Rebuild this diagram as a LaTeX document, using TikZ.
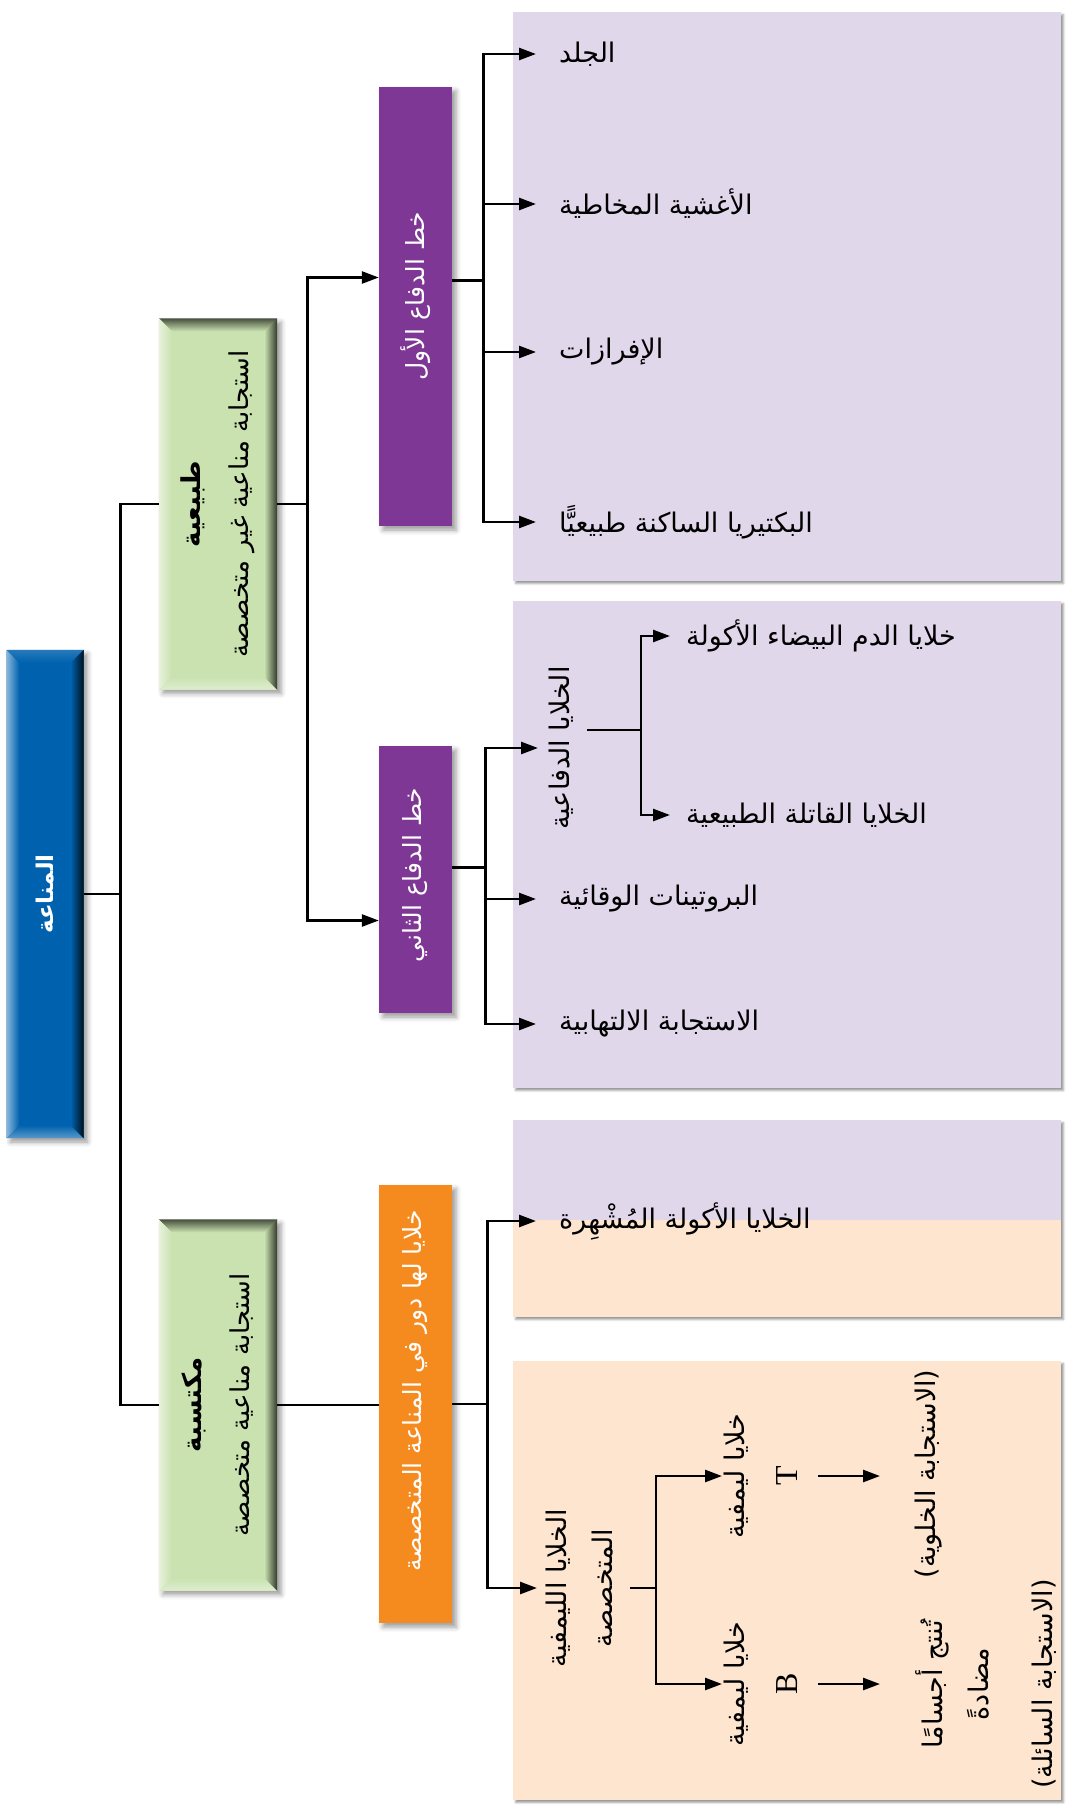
\documentclass[tikz,border=0pt]{standalone}
\usepackage{fontspec}
\setmainfont{Liberation Serif}
\newfontfamily\arabicfont[Script=Arabic]{DejaVu Sans}
\TeXXeTstate=1
\usetikzlibrary{arrows.meta,shadows.blur}
\definecolor{immblue}{RGB}{0,98,174}
\definecolor{natgreen}{RGB}{201,226,176}
\definecolor{linepurple}{RGB}{126,55,148}
\definecolor{specorange}{RGB}{245,139,31}
\definecolor{lavender}{RGB}{225,215,235}
\definecolor{peach}{RGB}{253,229,207}
\tikzset{
  link/.style={line width=2.6pt,black},
  arr/.style={link,-{Triangle[length=17pt,width=12pt]}},
  softshadow/.style={blur shadow={shadow xshift=4pt,shadow yshift=-4pt,shadow blur radius=5pt}},
  panelshadow/.style={blur shadow={shadow xshift=2.5pt,shadow yshift=-2.5pt,shadow blur radius=2pt}},
  rootbox/.style={fill=immblue,minimum width=77pt,minimum height=488pt,inner sep=0pt,softshadow},
  greenbox/.style={fill=natgreen,minimum width=118pt,minimum height=371pt,inner sep=0pt,softshadow},
  linebox/.style={fill=linepurple,minimum width=73pt,inner sep=0pt,softshadow},
  specbox/.style={fill=specorange,minimum width=73pt,minimum height=438pt,inner sep=0pt,softshadow},
  headtxt/.style={rotate=90,align=center,inner sep=0pt,font=\arabicfont\fontsize{25}{48}\selectfont},
  leaf/.style={anchor=west,inner xsep=23pt,inner ysep=0pt,font=\arabicfont\fontsize{27}{30}\selectfont},
  vleaf/.style={rotate=90,anchor=north,align=center,inner sep=0pt,font=\arabicfont\fontsize{27}{46}\selectfont}
}
\newcommand{\artx}[1]{\beginR#1\endR}
\newcommand{\latinbig}{\rmfamily\fontsize{32}{36}\selectfont}
% bevelled edges of a box: node, base, left, top, right, bottom
\newcommand{\bevelbox}[6]{%
  \shade[top color=#4,bottom color=#2] (#1.north west) -- (#1.north east)
    -- ([xshift=-13pt,yshift=-13pt]#1.north east) -- ([xshift=13pt,yshift=-13pt]#1.north west) -- cycle;
  \shade[bottom color=#6,top color=#2] (#1.south west) -- (#1.south east)
    -- ([xshift=-13pt,yshift=13pt]#1.south east) -- ([xshift=13pt,yshift=13pt]#1.south west) -- cycle;
  \shade[left color=#3,right color=#2] (#1.north west) -- ([xshift=13pt,yshift=-13pt]#1.north west)
    -- ([xshift=13pt,yshift=13pt]#1.south west) -- (#1.south west) -- cycle;
  \shade[right color=#5,left color=#2] (#1.north east) -- ([xshift=-13pt,yshift=-13pt]#1.north east)
    -- ([xshift=-13pt,yshift=13pt]#1.south east) -- (#1.south east) -- cycle;
}

\begin{document}
\begin{tikzpicture}[x=1pt,y=-1pt]
  \useasboundingbox (0,0) rectangle (1065,1811);
  % background panels
  \fill[lavender,panelshadow] (513,12) rectangle (1061,581);
  \fill[lavender,panelshadow] (513,601) rectangle (1061,1088);
  \fill[peach,panelshadow] (513,1120) rectangle (1061,1317);
  \fill[lavender] (513,1120) rectangle (1061,1220);
  \fill[peach,panelshadow] (513,1361) rectangle (1061,1800);

  % heading boxes
  \node[rootbox] (imm) at (45,894) {};
  \bevelbox{imm}{immblue}{immblue!45!white}{immblue!85!white}{immblue!15!black}{immblue!65!white}
  \node[headtxt,white,font=\arabicfont\bfseries\fontsize{23}{28}\selectfont] (immt) at (imm) {\artx{المناعة}};

  \node[greenbox] (nat) at (218,504) {};
  \bevelbox{nat}{natgreen}{natgreen!45!white}{natgreen!35!black}{natgreen!25!black}{natgreen!60!white}
  \node[headtxt,font=\arabicfont\fontsize{26}{48}\selectfont] (natt) at (nat) {{\bfseries\artx{طبيعية}}\\\artx{استجابة مناعية غير متخصصة}};

  \node[greenbox] (acq) at (218,1405) {};
  \bevelbox{acq}{natgreen}{natgreen!45!white}{natgreen!35!black}{natgreen!25!black}{natgreen!60!white}
  \node[headtxt,font=\arabicfont\fontsize{26}{48}\selectfont] (acqt) at (acq) {{\bfseries\artx{مكتسبة}}\\\artx{استجابة مناعية متخصصة}};

  \node[linebox,minimum height=439pt] (first) at (415.5,306.5) {};
  \node[headtxt,white] (firstt) at (415.5,296) {\artx{خط الدفاع الأول}};
  \node[linebox,minimum height=267pt] (second) at (415.5,879.5) {};
  \node[headtxt,white] (secondt) at (415.5,875) {\artx{خط الدفاع الثاني}};
  \node[specbox] (spec) at (415.5,1404) {};
  \node[headtxt,white] (spect) at (415.5,1391) {\artx{خلايا لها دور في المناعة المتخصصة}};

  % leaves
  \node[leaf] (skin) at (536,54) {\artx{الجلد}};
  \node[leaf] (mucus) at (536,204) {\artx{الأغشية المخاطية}};
  \node[leaf] (secr) at (536,352) {\artx{الإفرازات}};
  \node[leaf] (flora) at (536,522) {\artx{البكتيريا الساكنة طبيعيًّا}};
  \node[vleaf] (defc) at (549,748) {\artx{الخلايا الدفاعية}};
  \node[leaf,inner xsep=16pt] (phag) at (670,636) {\artx{خلايا الدم البيضاء الأكولة}};
  \node[leaf,inner xsep=16pt] (nk) at (670,815) {\artx{الخلايا القاتلة الطبيعية}};
  \node[leaf] (prot) at (536,899) {\artx{البروتينات الوقائية}};
  \node[leaf] (infl) at (536,1024) {\artx{الاستجابة الالتهابية}};
  \node[leaf] (apc) at (536,1221) {\artx{الخلايا الأكولة المُشْهِرة}};
  \node[vleaf] (lymph) at (546,1588) {\artx{الخلايا الليمفية}\\\artx{المتخصصة}};
  \node[vleaf] (tcell) at (724,1476) {\artx{خلايا ليمفية}\\[7pt]{\latinbig T}};
  \node[vleaf] (bcell) at (724,1684) {\artx{خلايا ليمفية}\\[7pt]{\latinbig B}};
  \node[vleaf] (tresp) at (915,1474) {\artx{(الاستجابة الخلوية)}};
  \node[vleaf] (bresp) at (915,1684) {\artx{تُنتج أجسامًا}\\\artx{مضادةً}\\[18pt]\artx{(الاستجابة السائلة)}};

  % connectors
  \draw[link] (imm.east) -- ++(37,0) coordinate (j0);
  \draw[link] (nat.west) -| (j0) |- (acq.west);
  \draw[link] (nat.east) -- ++(30,0) coordinate (j1);
  \draw[arr] (j1) |- ([yshift=29pt]first.west);
  \draw[arr] (j1) |- ([yshift=-41pt]second.west);
  \draw[link] (acq.east) -- (acq.east -| spec.west);

  \draw[link] ([yshift=26pt]first.east) -- ++(31,0) coordinate (j2);
  \foreach \leafname in {skin,mucus,secr,flora}
    \draw[arr] (j2) |- (\leafname.west);

  \draw[link] ([yshift=12pt]second.east) -- ++(33,0) coordinate (j3);
  \draw[arr] (j3) |- ([xshift=-11pt]defc.north);
  \draw[arr] (j3) |- (prot.west);
  \draw[arr] (j3) |- (infl.west);
  \draw[link] ([xshift=38pt,yshift=18pt]defc.north) -- ++(54,0) coordinate (j4);
  \draw[arr] (j4) |- (phag.west);
  \draw[arr] (j4) |- (nk.west);

  \draw[link] (spec.east) -- ++(35,0) coordinate (j5);
  \draw[arr] (j5) |- (apc.west);
  \draw[arr] (j5) |- ([xshift=-9pt]lymph.north);
  \draw[link] ([xshift=84pt]lymph.north) -- ++(26,0) coordinate (j6);
  \draw[arr] (j6) |- ([xshift=-2pt]tcell.north);
  \draw[arr] (j6) |- ([xshift=-2pt]bcell.north);
  \draw[arr,shorten <=94pt,shorten >=35pt] (tcell.north) -- (tresp.north |- tcell.north);
  \draw[arr,shorten <=94pt,shorten >=35pt] (bcell.north) -- (bresp.north |- bcell.north);
\end{tikzpicture}
\end{document}
